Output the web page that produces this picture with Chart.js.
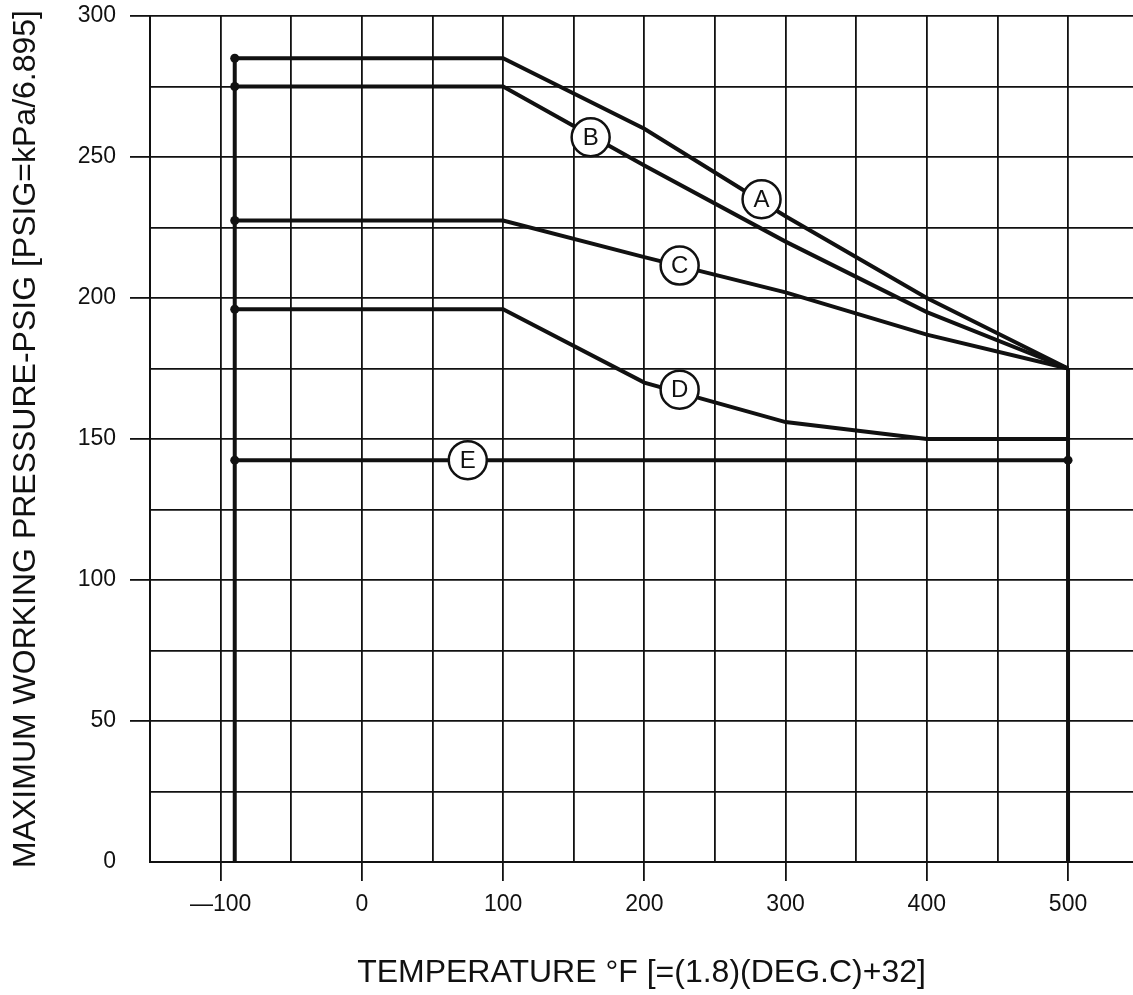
<!DOCTYPE html>
<html>
<head>
<meta charset="utf-8">
<title>Maximum working pressure vs temperature</title>
<script src="https://cdn.jsdelivr.net/npm/chart.js@4.4.1/dist/chart.umd.min.js"></script>
<style>
    html, body { margin: 0; padding: 0; background: #fff; overflow: hidden; }
    canvas { display: block; }
</style>
</head>
<body>
<canvas id="pressureChart" width="1133" height="995"></canvas>
<script>
// temperatures (°F) where curves A-D change slope
const curveTemps = [-90, 100, 200, 300, 400, 500];
const curveA = [285, 285, 260, 229, 200, 175];
const curveB = [275, 275, 247, 220, 195, 175];
const curveC = [227.5, 227.5, 214.5, 202, 187, 175];
const curveD = [196, 196, 170, 156, 150, 150];

// curve E is flat over the whole range
const curveETemps = [-90, 500];
const curveE = [142.5, 142.5];

// vertical limit lines at both ends of the temperature range
const lowLimitTemps = [-90, -90];
const lowLimit = [0, 285];
const highLimitTemps = [500, 500];
const highLimit = [0, 175];

// circled curve names
const tagNames = ['A', 'B', 'C', 'D', 'E'];
const tagTemps = [283, 162, 225, 225, 75];
const tagValues = [235, 257, 211.5, 167.5, 142.5];

// tick labels
const xTicks = [-100, 0, 100, 200, 300, 400, 500];
const xTickLabels = ['\u2014100', '0', '100', '200', '300', '400', '500'];
const yTicks = [0, 50, 100, 150, 200, 250, 300];
const yTickLabels = ['0', '50', '100', '150', '200', '250', '300'];

const FONT = '"Liberation Sans", Arial, Helvetica, sans-serif';
const INK = '#111';

function toPoints(xs, ys) {
    return xs.map((x, i) => ({ x: x, y: ys[i] }));
}

// line dataset; dots only where listed
function curve(label, xs, ys, dots) {
    return {
        label: label,
        data: toPoints(xs, ys),
        showLine: true,
        borderColor: INK,
        backgroundColor: INK,
        borderWidth: 4,
        tension: 0,
        pointRadius: xs.map((x, i) => dots.includes(i) ? 4.5 : 0),
        pointBorderWidth: 0,
        pointBackgroundColor: INK,
        order: 1
    };
}

// draws the letters inside the circles
const tagLetters = {
    id: 'tagLetters',
    afterDatasetsDraw(chart) {
        const idx = chart.data.datasets.findIndex(d => d.label === 'tags');
        const meta = chart.getDatasetMeta(idx);
        const ctx = chart.ctx;
        ctx.save();
        ctx.font = '24px ' + FONT;
        ctx.fillStyle = INK;
        ctx.textAlign = 'center';
        ctx.textBaseline = 'middle';
        meta.data.forEach((pt, i) => {
            ctx.fillText(tagNames[i], pt.x, pt.y + 1);
        });
        ctx.restore();
    }
};

const ctx = document.getElementById('pressureChart').getContext('2d');

new Chart(ctx, {
    type: 'scatter',
    data: {
        datasets: [
            {
                label: 'tags',
                data: toPoints(tagTemps, tagValues),
                pointRadius: 19,
                pointBackgroundColor: '#fff',
                pointBorderColor: INK,
                pointBorderWidth: 2.5,
                showLine: false,
                order: 0
            },
            curve('A', curveTemps, curveA, [0]),
            curve('B', curveTemps, curveB, [0]),
            curve('C', curveTemps, curveC, [0]),
            curve('D', curveTemps, curveD, [0]),
            curve('E', curveETemps, curveE, [0, 1]),
            curve('low limit', lowLimitTemps, lowLimit, []),
            curve('high limit', highLimitTemps, highLimit, [])
        ]
    },
    options: {
        responsive: false,
        animation: false,
        devicePixelRatio: 1,
        layout: {
            autoPadding: false,
            padding: { top: 16, left: 0, right: 0, bottom: 0 }
        },
        plugins: {
            legend: { display: false },
            tooltip: { enabled: false }
        },
        scales: {
            x: {
                type: 'linear',
                min: -150,
                max: 546,
                afterFit: scale => { scale.height = 133; },
                ticks: {
                    stepSize: 50,
                    includeBounds: false,
                    autoSkip: false,
                    maxRotation: 0,
                    padding: 10,
                    color: INK,
                    font: { family: FONT, size: 23 },
                    callback: v => {
                        const i = xTicks.indexOf(v);
                        return i >= 0 ? xTickLabels[i] : '';
                    }
                },
                grid: {
                    color: INK,
                    lineWidth: 1.8,
                    tickLength: 19,
                    tickWidth: 1.8,
                    tickColor: c => xTicks.includes(c.tick.value) ? INK : 'rgba(0,0,0,0)'
                },
                border: { color: INK, width: 2 },
                title: {
                    display: true,
                    text: 'TEMPERATURE °F [=(1.8)(DEG.C)+32]',
                    color: INK,
                    font: { family: FONT, size: 32, lineHeight: 1 },
                    padding: { top: 0, bottom: 6 }
                }
            },
            y: {
                type: 'linear',
                min: 0,
                max: 300,
                afterFit: scale => {
                    scale.width = 150;
                    scale.paddingTop = 0;
                },
                ticks: {
                    stepSize: 25,
                    autoSkip: false,
                    padding: 14,
                    color: INK,
                    font: { family: FONT, size: 23 },
                    callback: v => {
                        const i = yTicks.indexOf(v);
                        return i >= 0 ? yTickLabels[i] : '';
                    }
                },
                grid: {
                    color: INK,
                    lineWidth: 1.8,
                    tickLength: 20,
                    tickWidth: 1.8,
                    tickColor: c => (yTicks.includes(c.tick.value) && c.tick.value !== 0) ? INK : 'rgba(0,0,0,0)'
                },
                border: { color: INK, width: 2 },
                title: {
                    display: true,
                    text: 'MAXIMUM WORKING PRESSURE-PSIG [PSIG=kPa/6.895]',
                    color: INK,
                    font: { family: FONT, size: 32, lineHeight: 1 },
                    padding: { top: 10, bottom: 0 }
                }
            }
        }
    },
    plugins: [tagLetters]
});
</script>
</body>
</html>
